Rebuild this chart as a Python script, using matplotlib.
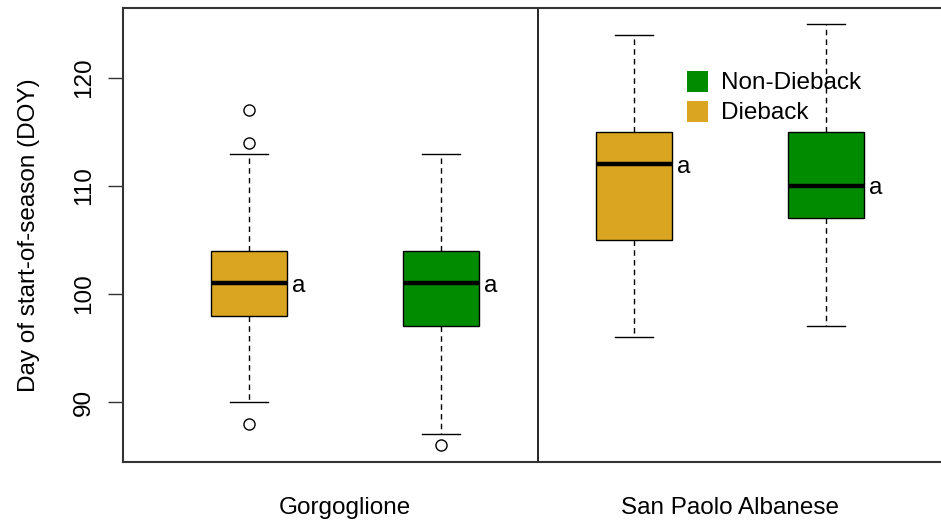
import matplotlib.pyplot as plt
from matplotlib.patches import Patch

plt.rcParams['font.family'] = ['Liberation Sans', 'DejaVu Sans']

# five-number summaries per site / condition (DOY)
sites = ["Gorgoglione", "San Paolo Albanese"]
groups = ["Dieback", "Non-Dieback", "Dieback", "Non-Dieback"]
whislo = [90, 87, 96, 97]
q1 = [98, 97, 105, 107]
med = [101, 101, 112, 110]
q3 = [104, 104, 115, 115]
whishi = [113, 113, 124, 125]
fliers = [[117, 114, 88], [86], [], []]
letters = ["a", "a", "a", "a"]

colors = {"Dieback": "#DAA520", "Non-Dieback": "#008B00"}

stats = []
for i in range(len(groups)):
    stats.append(dict(whislo=whislo[i], q1=q1[i], med=med[i], q3=q3[i],
                      whishi=whishi[i], fliers=fliers[i]))

positions = [1, 2, 3, 4]
box_w = 0.395
fs = 17.5

fig = plt.figure(figsize=(9.41, 5.25), dpi=100)
ax = fig.add_axes([0.1307, 0.12, 0.8693, 0.8648])

bp = ax.bxp(stats, positions=positions, widths=box_w, patch_artist=True,
            boxprops=dict(edgecolor='black', linewidth=1.0),
            medianprops=dict(color='black', linewidth=3.2, solid_capstyle='butt'),
            whiskerprops=dict(color='black', linewidth=1.0, linestyle=(0, (4, 3))),
            capprops=dict(color='black', linewidth=1.0),
            flierprops=dict(marker='o', markerfacecolor='none',
                            markeredgecolor='black', markersize=8,
                            markeredgewidth=1.0))
for patch, g in zip(bp['boxes'], groups):
    patch.set_facecolor(colors[g])

# significance letters beside each box
for p, m, lab in zip(positions, med, letters):
    ax.text(p + box_w / 2 + 0.025, m, lab, fontsize=fs, va='center_baseline',
            ha='left')

ax.axvline(2.5, color='black', linewidth=1.2)

ax.set_xlim(0.345, 4.597)
ax.set_ylim(84.44, 126.48)
ax.set_yticks([90, 100, 110, 120])
ax.set_yticklabels(["90", "100", "110", "120"], rotation=90, va='center',
                   fontsize=fs)
ax.tick_params(axis='y', length=11, width=1.0, pad=9, color='#333333')
ax.set_xticks([1.5, 3.5])
ax.set_xticklabels(sites, fontsize=fs)
ax.tick_params(axis='x', length=0, pad=25)
ax.set_ylabel("Day of start-of-season (DOY)", fontsize=fs, labelpad=24)

for s in ['left', 'top', 'bottom']:
    ax.spines[s].set_linewidth(1.5)
    ax.spines[s].set_color('#333333')
ax.spines['right'].set_visible(False)

handles = [Patch(facecolor=colors["Non-Dieback"], edgecolor='none', label="Non-Dieback"),
           Patch(facecolor=colors["Dieback"], edgecolor='none', label="Dieback")]
ax.legend(handles=handles, loc='upper left', bbox_to_anchor=(0.689, 0.862),
          frameon=False, fontsize=fs, handlelength=0.9, handleheight=0.95,
          handletextpad=0.5, labelspacing=0.25, borderpad=0, borderaxespad=0)

fig.savefig("out.png", dpi=100)
